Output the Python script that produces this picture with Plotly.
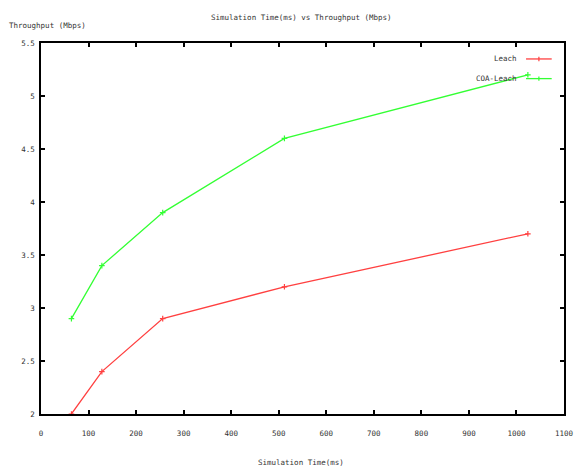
import plotly.graph_objects as go

sim_time = [64, 128, 256, 512, 1024]
leach = [2.0, 2.4, 2.9, 3.2, 3.7]
coa_leach = [2.9, 3.4, 3.9, 4.6, 5.2]
series_names = ["Leach", "COA-Leach"]
colors = ["#ff4040", "#33ff33"]

FONT = dict(family="DejaVu Sans Mono", size=7.5, color="#333333")

fig = go.Figure()
for name, vals, col in zip(series_names, [leach, coa_leach], colors):
    fig.add_trace(go.Scatter(
        x=sim_time, y=vals, name=name, mode="lines+markers",
        line=dict(color=col, width=1.3),
        marker=dict(symbol="cross-thin", size=4, line=dict(color=col, width=1.2)),
        showlegend=False,
    ))

# gnuplot-style key (text left of line sample), paper coordinates
leg_y = [0.957, 0.904]
for name, col, yy in zip(series_names, colors, leg_y):
    fig.add_annotation(x=0.9145, y=yy, xref="paper", yref="paper", text=name,
                       showarrow=False, xanchor="right", yanchor="middle", font=FONT)
    fig.add_shape(type="line", xref="paper", yref="paper", x0=0.9274, x1=0.9765,
                  y0=yy, y1=yy, line=dict(color=col, width=1.3))
    fig.add_shape(type="line", xref="paper", yref="paper", x0=0.952, x1=0.952,
                  y0=yy - 0.006, y1=yy + 0.006, line=dict(color=col, width=1.2))

fig.add_annotation(x=0.499, y=1.070, xref="paper", yref="paper",
                   text="Simulation Time(ms) vs Throughput (Mbps)", showarrow=False,
                   xanchor="center", yanchor="middle", font=FONT)
fig.add_annotation(x=-0.065, y=1.0485, xref="paper", yref="paper",
                   text="Throughput (Mbps)", showarrow=False,
                   xanchor="left", yanchor="middle", font=FONT)
fig.add_annotation(x=0.498, y=-0.131, xref="paper", yref="paper",
                   text="Simulation Time(ms)", showarrow=False,
                   xanchor="center", yanchor="middle", font=FONT)

axis_common = dict(showline=True, linecolor="black", linewidth=1.5, mirror="ticks",
                   ticks="inside", ticklen=4, tickwidth=1.5, tickcolor="black",
                   showgrid=False, zeroline=False, tickfont=FONT, automargin=False)
fig.update_xaxes(range=[0, 1100], dtick=100, tick0=0, ticklabelstandoff=11, **axis_common)
fig.update_yaxes(range=[2, 5.5], dtick=0.5, tick0=2, ticklabelstandoff=3, **axis_common)

fig.update_layout(width=576, height=470, margin=dict(l=41, r=12, t=43, b=56),
                  plot_bgcolor="white", paper_bgcolor="white", font=FONT)

fig.write_html("out.html", config={"displayModeBar": False},
               post_script="document.body.style.margin='0';document.body.style.overflow='hidden';")
